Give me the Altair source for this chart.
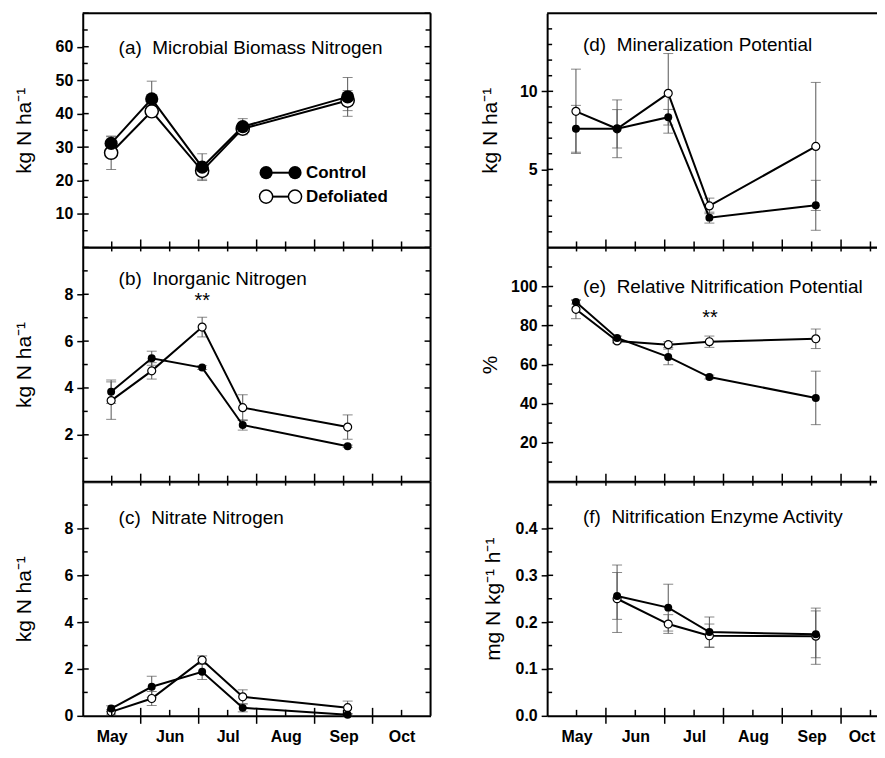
import altair as alt
import pandas as pd

FONT = "Liberation Sans"
MONTH_NAMES = ["May", "Jun", "Jul", "Aug", "Sep", "Oct"]
# sampling dates, expressed as months after 1 May
sample_month = [0.49, 1.19, 2.06, 2.76, 4.57]
label_month = [0.5, 1.5, 2.5, 3.5, 4.5, 5.5]
major_month = [1, 2, 3, 4, 5]

# (a) Microbial biomass N
a_ctrl = [31.1, 44.4, 24.0, 36.1, 45.0]
a_ctrl_se = [2.0, 5.3, 4.0, 2.4, 5.8]
a_defo = [28.3, 40.7, 22.9, 35.5, 43.9]
a_defo_se = [5.0, 1.5, 2.5, 1.5, 3.0]
# (b) Inorganic N
b_ctrl = [3.84, 5.27, 4.87, 2.42, 1.51]
b_ctrl_se = [0.5, 0.3, 0.08, 0.22, 0.05]
b_defo = [3.46, 4.73, 6.60, 3.16, 2.33]
b_defo_se = [0.8, 0.35, 0.42, 0.55, 0.52]
# (c) Nitrate N
c_ctrl = [0.31, 1.24, 1.88, 0.34, 0.05]
c_ctrl_se = [0.12, 0.45, 0.33, 0.17, 0.05]
c_defo = [0.17, 0.74, 2.38, 0.81, 0.35]
c_defo_se = [0.1, 0.3, 0.18, 0.3, 0.28]
# (d) Mineralization potential
d_ctrl = [7.6, 7.6, 8.34, 1.91, 2.7]
d_ctrl_se = [1.5, 1.23, 0.5, 0.35, 1.6]
d_defo = [8.72, 7.6, 9.87, 2.66, 6.47]
d_defo_se = [2.7, 1.85, 2.55, 0.5, 4.1]
# (e) Relative nitrification potential
e_ctrl = [92.0, 73.6, 63.9, 53.6, 42.9]
e_ctrl_se = [1.0, 1.0, 4.0, 1.0, 13.7]
e_defo = [88.3, 72.1, 70.2, 71.7, 73.2]
e_defo_se = [4.8, 1.0, 1.5, 2.9, 5.0]
# (f) Nitrification enzyme activity (no May sample)
f_month = sample_month[1:]
f_ctrl = [0.256, 0.231, 0.179, 0.174]
f_ctrl_se = [0.05, 0.05, 0.032, 0.05]
f_defo = [0.250, 0.196, 0.171, 0.170]
f_defo_se = [0.072, 0.02, 0.025, 0.06]

# significance marks
b_star = {"x": [2.06], "y": [7.73]}
e_star = {"x": [2.77], "y": [83.8]}

H = 235
LEFT_W, RIGHT_W = 349, 338
LEFT_XMAX, RIGHT_XMAX = 6.0, 5.73


def frange(start, stop, step):
    out, v = [], start
    while v <= stop + 1e-9:
        out.append(round(v, 4))
        v += step
    return out


def make_panel(title, ytitle, ymax, ylabels, ymajor, yminor, xmax, width, xs,
               ctrl, ctrl_se, defo, defo_se, big=False, bottom=False,
               right_border=False, top_ticks=True, stars=None, legend=False,
               title_pos=(36, 35), ytitle_x=-58, yfmt=None, pull_last=False):
    n = len(xs)
    df = pd.DataFrame({
        "x": list(xs) * 2,
        "val": list(ctrl) + list(defo),
        "se": list(ctrl_se) + list(defo_se),
        "trt": ["Control"] * n + ["Defoliated"] * n,
    })
    df["lo"] = df["val"] - df["se"]
    df["hi"] = df["val"] + df["se"]
    caps = pd.DataFrame({"x": list(df["x"]) * 2,
                         "val": list(df["lo"]) + list(df["hi"])})

    xsc = alt.Scale(domain=[0, xmax], nice=False, zero=False)
    ysc = alt.Scale(domain=[0, ymax], nice=False, zero=True)
    xargs = dict(values=label_month,
                 labelExpr="['May','Jun','Jul','Aug','Sep','Oct'][floor(datum.value)]",
                 labels=bottom, ticks=True, tickSize=8, tickOpacity=0,
                 labelPadding=5, domain=True, domainWidth=2,
                 domainColor="black", grid=False, title=None,
                 labelFont=FONT, labelFontSize=16, labelFontWeight="bold",
                 labelColor="black")
    if pull_last:
        xargs["labelOffset"] = {"condition": {"test": "datum.value > 5",
                                              "value": -9}, "value": 0}
    xaxis = alt.Axis(**xargs)
    yargs = dict(values=ylabels, ticks=True, tickSize=6, tickWidth=1.5,
                 tickColor="black", labelPadding=4, domain=True, domainWidth=2,
                 domainColor="black", grid=False, title=ytitle,
                 titleFont=FONT, titleFontSize=21, titleFontWeight="normal",
                 titleColor="black", titleX=ytitle_x, titleY=H / 2,
                 titleAngle=270, titleAlign="center", titleBaseline="middle",
                 labelFont=FONT, labelFontSize=16, labelFontWeight="bold",
                 labelColor="black")
    if yfmt:
        yargs["format"] = yfmt
    yaxis = alt.Axis(**yargs)

    def X(f):
        return alt.X(f, type="quantitative", scale=xsc, axis=xaxis)

    def Y(f):
        return alt.Y(f, type="quantitative", scale=ysc, axis=yaxis)

    size = 175 if big else 64
    sw = 1.5 if big else 1.2

    layers = []
    layers.append(alt.Chart(df).mark_rule(color="#555", strokeWidth=1).encode(
        x=X("x"), y=Y("lo"), y2="hi"))
    layers.append(alt.Chart(caps).mark_tick(orient="horizontal", color="#555",
                                            size=10, thickness=1).encode(
        x=X("x"), y=Y("val")))
    layers.append(alt.Chart(df).mark_line(color="black", strokeWidth=2).encode(
        x=X("x"), y=Y("val"), detail="trt:N"))
    layers.append(alt.Chart(df[df.trt == "Defoliated"]).mark_point(
        shape="circle", filled=False, fill="white", fillOpacity=1,
        stroke="black", strokeWidth=sw, size=size, opacity=1).encode(
        x=X("x"), y=Y("val")))
    layers.append(alt.Chart(df[df.trt == "Control"]).mark_point(
        shape="circle", filled=True, color="black", size=size,
        opacity=1).encode(x=X("x"), y=Y("val")))

    # inward / crossing ticks
    ymaj = pd.DataFrame({"val": ymajor})
    ymin = pd.DataFrame({"val": yminor})
    xmaj = pd.DataFrame({"val": major_month})
    xmin = pd.DataFrame({"val": label_month})
    tk = dict(color="black", strokeWidth=1.5)
    for d, L in ((ymaj, 6), (ymin, 5)):
        layers.append(alt.Chart(d).mark_rule(**tk).encode(
            y=Y("val"), x=alt.value(0), x2=alt.value(L)))
        if right_border:
            layers.append(alt.Chart(d).mark_rule(**tk).encode(
                y=Y("val"), x=alt.value(width - L), x2=alt.value(width)))
    for d, L in ((xmaj, 8), (xmin, 6)):
        layers.append(alt.Chart(d).mark_rule(**tk).encode(
            x=X("val"), y=alt.value(H - L), y2=alt.value(H)))
        if top_ticks:
            layers.append(alt.Chart(d).mark_rule(**tk).encode(
                x=X("val"), y=alt.value(0), y2=alt.value(4)))
    if bottom:
        layers.append(alt.Chart(xmaj).mark_rule(**tk).encode(
            x=X("val"), y=alt.value(H), y2=alt.value(H + 8)))

    # frame: top and right
    layers.append(alt.Chart(pd.DataFrame({"k": [0]})).mark_rule(
        color="black", strokeWidth=2).encode(
        x=alt.value(0), x2=alt.value(width), y=alt.value(0)))
    if right_border:
        layers.append(alt.Chart(pd.DataFrame({"k": [0]})).mark_rule(
            color="black", strokeWidth=2).encode(
            x=alt.value(width), y=alt.value(0), y2=alt.value(H)))

    # panel title
    layers.append(alt.Chart(pd.DataFrame({"t": [title]})).mark_text(
        align="left", baseline="middle", font=FONT, fontSize=19,
        color="black").encode(text="t:N", x=alt.value(title_pos[0]),
                              y=alt.value(title_pos[1])))

    if stars:
        sd = pd.DataFrame({"x": stars["x"], "y": stars["y"], "t": ["**"]})
        layers.append(alt.Chart(sd).mark_text(
            align="center", baseline="middle", font=FONT, fontSize=20,
            color="black").encode(text="t:N", x=X("x"), y=Y("y")))

    if legend:
        for i, (name, filled) in enumerate((("Control", True),
                                            ("Defoliated", False))):
            ly = 160 + 24 * i
            ld = pd.DataFrame({"t": [name]})
            layers.append(alt.Chart(ld).mark_rule(
                color="black", strokeWidth=2).encode(
                x=alt.value(184), x2=alt.value(213), y=alt.value(ly)))
            for lx in (184, 213):
                if filled:
                    layers.append(alt.Chart(ld).mark_point(
                        shape="circle", filled=True, color="black",
                        size=size, opacity=1).encode(
                        x=alt.value(lx), y=alt.value(ly)))
                else:
                    layers.append(alt.Chart(ld).mark_point(
                        shape="circle", filled=False, fill="white",
                        fillOpacity=1, stroke="black", strokeWidth=sw,
                        size=size, opacity=1).encode(
                        x=alt.value(lx), y=alt.value(ly)))
            layers.append(alt.Chart(ld).mark_text(
                align="left", baseline="middle", font=FONT, fontSize=17,
                fontWeight="bold", color="black").encode(
                text="t:N", x=alt.value(224), y=alt.value(ly)))

    return alt.layer(*layers).properties(width=width, height=H)


KG = "kg N ha\u207b\u00b9"
pa = make_panel("(a)\u00a0 Microbial Biomass Nitrogen", KG, 70,
                [10, 20, 30, 40, 50, 60], frange(0, 70, 10), frange(5, 65, 10),
                LEFT_XMAX, LEFT_W, sample_month, a_ctrl, a_ctrl_se, a_defo,
                a_defo_se, big=True, right_border=True, top_ticks=False,
                legend=True, title_pos=(36, 35))
pb = make_panel("(b)\u00a0 Inorganic Nitrogen", KG, 10, [2, 4, 6, 8],
                [2, 4, 6, 8], [1, 3, 5, 7, 9], LEFT_XMAX, LEFT_W,
                sample_month, b_ctrl, b_ctrl_se, b_defo, b_defo_se,
                right_border=True, stars=b_star, title_pos=(36, 32))
pc = make_panel("(c)\u00a0 Nitrate Nitrogen", KG, 10, [0, 2, 4, 6, 8],
                [2, 4, 6, 8], [1, 3, 5, 7, 9], LEFT_XMAX, LEFT_W,
                sample_month, c_ctrl, c_ctrl_se, c_defo, c_defo_se,
                right_border=True, bottom=True, title_pos=(36, 37))
pdd = make_panel("(d)\u00a0 Mineralization Potential", KG, 15, [5, 10],
                 [5, 10], [1, 2, 3, 4, 6, 7, 8, 9, 11, 12, 13, 14],
                 RIGHT_XMAX, RIGHT_W, sample_month, d_ctrl, d_ctrl_se,
                 d_defo, d_defo_se, top_ticks=False, title_pos=(36, 32),
                 ytitle_x=-57)
pe = make_panel("(e)\u00a0 Relative Nitrification Potential", "%", 120,
                [20, 40, 60, 80, 100], [20, 40, 60, 80, 100],
                [10, 30, 50, 70, 90, 110], RIGHT_XMAX, RIGHT_W, sample_month,
                e_ctrl, e_ctrl_se, e_defo, e_defo_se, stars=e_star,
                title_pos=(36, 40), ytitle_x=-57)
pf = make_panel("(f)\u00a0 Nitrification Enzyme Activity",
                "mg N kg\u207b\u00b9 h\u207b\u00b9", 0.5,
                [0, 0.1, 0.2, 0.3, 0.4], [0.1, 0.2, 0.3, 0.4],
                [0.05, 0.15, 0.25, 0.35, 0.45], RIGHT_XMAX, RIGHT_W, f_month,
                f_ctrl, f_ctrl_se, f_defo, f_defo_se, bottom=True,
                title_pos=(36, 36), ytitle_x=-54, pull_last=True)

chart = alt.concat(pa, pdd, pb, pe, pc, pf, columns=2,
                   spacing={"row": 0, "column": 117}, bounds="flush").properties(
    padding={"left": 5, "top": 2, "right": -9, "bottom": 0}
).configure_view(stroke=None).configure(font=FONT)

chart.save("out.html", embed_options={"renderer": "svg", "actions": False})
